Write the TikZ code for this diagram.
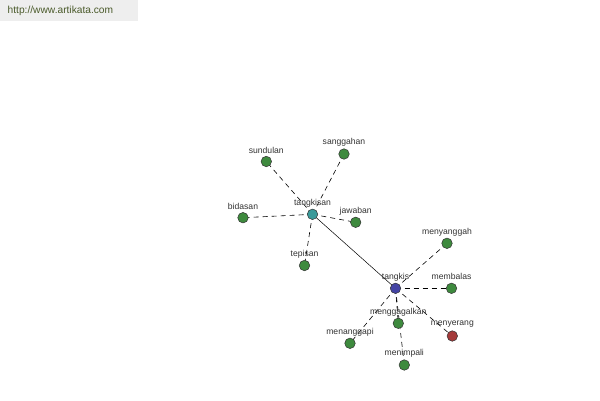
\documentclass[tikz,border=0pt]{standalone}
\usepackage{fontspec}
\setmainfont{Liberation Sans}
\definecolor{ngreen}{HTML}{3E8A3E}
\definecolor{nteal}{HTML}{3A9A9A}
\definecolor{nblue}{HTML}{4444A4}
\definecolor{nred}{HTML}{A43A3A}
\definecolor{hdrbg}{HTML}{EEEEEE}
\definecolor{hdrtxt}{HTML}{4A5A2A}
\definecolor{lbl}{HTML}{333333}
\tikzset{
  vert/.style={circle,draw=black!80,line width=0.5pt,minimum size=10.5pt,inner sep=0pt,fill=ngreen},
  lab/.style={font=\fontsize{8.6}{9}\selectfont,text=lbl,inner sep=0pt},
  dedge/.style={draw=black,line width=0.6pt,dash pattern=on 5pt off 4pt},
  sedge/.style={draw=black,line width=0.5pt}
}
\begin{document}
\begin{tikzpicture}[x=1pt,y=-1pt]
\useasboundingbox (0,0) rectangle (600,400);
\fill[white] (0,0) rectangle (600,400);
\fill[hdrbg] (0,0) rectangle (138,21);
\node[font=\fontsize{10.2}{12}\selectfont,text=hdrtxt,anchor=west,inner sep=0pt] (hdr) at (7.5,11) {http://www.artikata.com};
% vertices
\coordinate (p-tangkisan) at (312.5,214.3);
\coordinate (p-sundulan) at (266.3,161.5);
\coordinate (p-sanggahan) at (344,154);
\coordinate (p-bidasan) at (243,217.7);
\coordinate (p-jawaban) at (355.7,222.3);
\coordinate (p-tepisan) at (304.5,265.5);
\coordinate (p-tangkis) at (395.5,288.3);
\coordinate (p-menyanggah) at (447,243.3);
\coordinate (p-membalas) at (451.5,288.3);
\coordinate (p-menggagalkan) at (398.3,323.3);
\coordinate (p-menyerang) at (452.3,336);
\coordinate (p-menanggapi) at (350,343.3);
\coordinate (p-menimpali) at (404.3,365);
% edges
\draw[sedge] (p-tangkisan) -- (p-tangkis);
\foreach \n in {sundulan,sanggahan,bidasan,jawaban,tepisan}
  \draw[dedge] (p-tangkisan) -- (p-\n);
\foreach \n in {menyanggah,membalas,menggagalkan,menyerang,menanggapi,menimpali}
  \draw[dedge] (p-tangkis) -- (p-\n);
% nodes
\node[vert,fill=nteal] (tangkisan) at (p-tangkisan) {};
\node[vert] (sundulan) at (p-sundulan) {};
\node[vert] (sanggahan) at (p-sanggahan) {};
\node[vert] (bidasan) at (p-bidasan) {};
\node[vert] (jawaban) at (p-jawaban) {};
\node[vert] (tepisan) at (p-tepisan) {};
\node[vert,fill=nblue] (tangkis) at (p-tangkis) {};
\node[vert] (menyanggah) at (p-menyanggah) {};
\node[vert] (membalas) at (p-membalas) {};
\node[vert] (menggagalkan) at (p-menggagalkan) {};
\node[vert,fill=nred] (menyerang) at (p-menyerang) {};
\node[vert] (menanggapi) at (p-menanggapi) {};
\node[vert] (menimpali) at (p-menimpali) {};
% labels
\foreach \n in {tangkisan,sundulan,sanggahan,bidasan,jawaban,tepisan,tangkis,menyanggah,membalas,menggagalkan,menyerang,menanggapi,menimpali}
  \node[lab] (l-\n) at ([yshift=11.5pt]\n.center) {\n};
\end{tikzpicture}
\end{document}
